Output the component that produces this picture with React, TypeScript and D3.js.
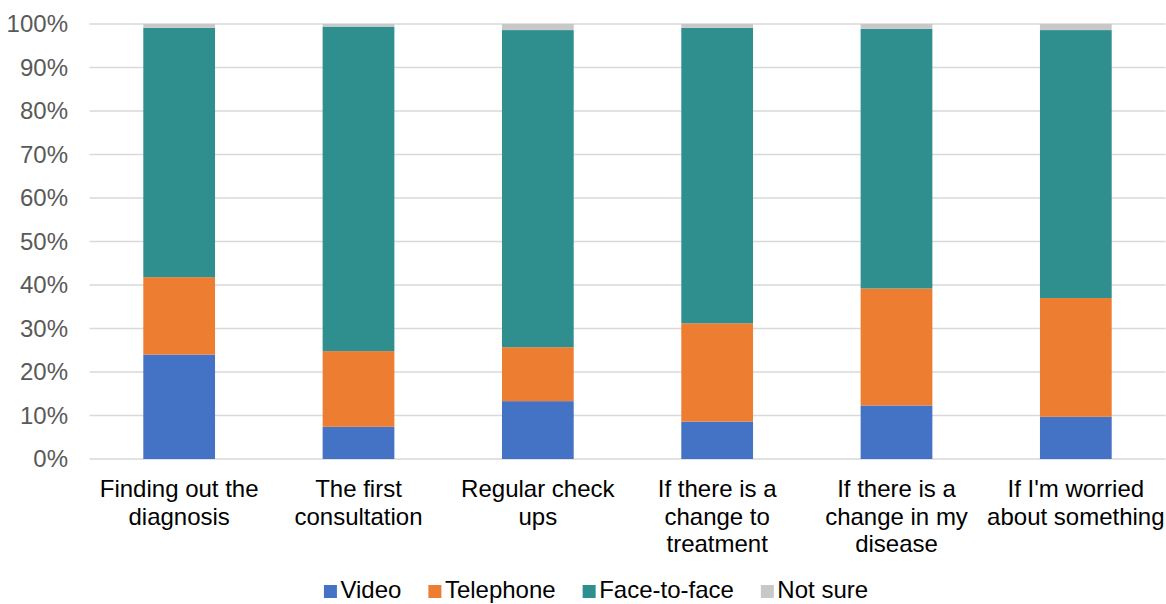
import React, { useEffect, useRef } from "react";
import * as d3 from "d3";

const categories: string[][] = [
  ["Finding out the", "diagnosis"],
  ["The first", "consultation"],
  ["Regular check", "ups"],
  ["If there is a", "change to", "treatment"],
  ["If there is a", "change in my", "disease"],
  ["If I'm worried", "about something"],
];
const seriesNames = ["Video", "Telephone", "Face-to-face", "Not sure"];
const video = [24.0, 7.4, 13.3, 8.6, 12.3, 9.7];
const telephone = [17.8, 17.4, 12.4, 22.6, 26.9, 27.3];
const faceToFace = [57.3, 74.6, 72.9, 67.9, 59.7, 61.6];
const notSure = [0.9, 0.6, 1.4, 0.9, 1.1, 1.4];
const colors = ["#4472C4", "#ED7D31", "#2F8F8E", "#C8C8C8"];
const yTicks = [0, 10, 20, 30, 40, 50, 60, 70, 80, 90, 100];

const W = 1166;
const H = 604;
const FONT = "'Liberation Sans', Arial, sans-serif";
const FS = 24;

export default function App() {
  const ref = useRef<SVGSVGElement>(null);

  useEffect(() => {
    const svg = d3.select(ref.current!);
    svg.selectAll("*").remove();

    const left = 89.5, right = 1165.5, top = 24, bottom = 459;
    const x = d3
      .scaleBand<number>()
      .domain(categories.map((_, i) => i))
      .range([left, right])
      .paddingInner(0.6)
      .paddingOuter(0.3);
    const y = d3.scaleLinear().domain([0, 100]).range([bottom, top]);

    const rows = categories.map((_, i) => ({
      i,
      s0: video[i],
      s1: telephone[i],
      s2: faceToFace[i],
      s3: notSure[i],
    }));
    const stack = d3.stack<any>().keys(["s0", "s1", "s2", "s3"]);
    const stacked = stack(rows);

    // gridlines
    svg
      .append("g")
      .selectAll("line")
      .data(yTicks)
      .join("line")
      .attr("x1", left)
      .attr("x2", right)
      .attr("y1", (d) => y(d))
      .attr("y2", (d) => y(d))
      .attr("stroke", "#D9D9D9")
      .attr("stroke-width", 1.3);

    // tick labels
    svg
      .append("g")
      .selectAll("text")
      .data(yTicks)
      .join("text")
      .attr("x", 68)
      .attr("y", (d) => y(d))
      .attr("dy", "0.35em")
      .attr("text-anchor", "end")
      .attr("font-family", FONT)
      .attr("font-size", FS)
      .attr("fill", "#595959")
      .text((d) => d + "%");

    // bars
    stacked.forEach((layer, k) => {
      svg
        .append("g")
        .selectAll("rect")
        .data(layer)
        .join("rect")
        .attr("x", (d: any) => x(d.data.i)!)
        .attr("width", x.bandwidth())
        .attr("y", (d: any) => y(d[1]))
        .attr("height", (d: any) => y(d[0]) - y(d[1]))
        .attr("fill", colors[k]);
    });

    // category labels
    const cat = svg
      .append("g")
      .selectAll("text")
      .data(categories)
      .join("text")
      .attr("text-anchor", "middle")
      .attr("font-family", FONT)
      .attr("font-size", FS)
      .attr("fill", "#000");
    cat.each(function (lines, i) {
      const t = d3.select(this);
      lines.forEach((ln, j) => {
        t.append("tspan")
          .attr("x", x(i)! + x.bandwidth() / 2)
          .attr("y", 497 + j * 27.5)
          .text(ln);
      });
    });

    // legend
    const lg = svg.append("g");
    const items: { g: any; w: number }[] = [];
    seriesNames.forEach((name, k) => {
      const g = lg.append("g");
      g.append("rect")
        .attr("x", 0)
        .attr("y", -13)
        .attr("width", 13)
        .attr("height", 13)
        .attr("fill", colors[k]);
      const t = g
        .append("text")
        .attr("x", 16.5)
        .attr("y", 0)
        .attr("font-family", FONT)
        .attr("font-size", FS)
        .attr("fill", "#000")
        .text(name);
      const tw = (t.node() as SVGTextElement).getComputedTextLength();
      items.push({ g, w: 16.5 + tw });
    });
    const gap = 27;
    const total = items.reduce((a, b) => a + b.w, 0) + gap * (items.length - 1);
    let cx = 596 - total / 2;
    items.forEach((it) => {
      it.g.attr("transform", `translate(${cx},598)`);
      cx += it.w + gap;
    });
  }, []);

  return (
    <svg
      ref={ref}
      width={W}
      height={H}
      style={{ position: "absolute", left: 0, top: 0, background: "#fff" }}
    />
  );
}
